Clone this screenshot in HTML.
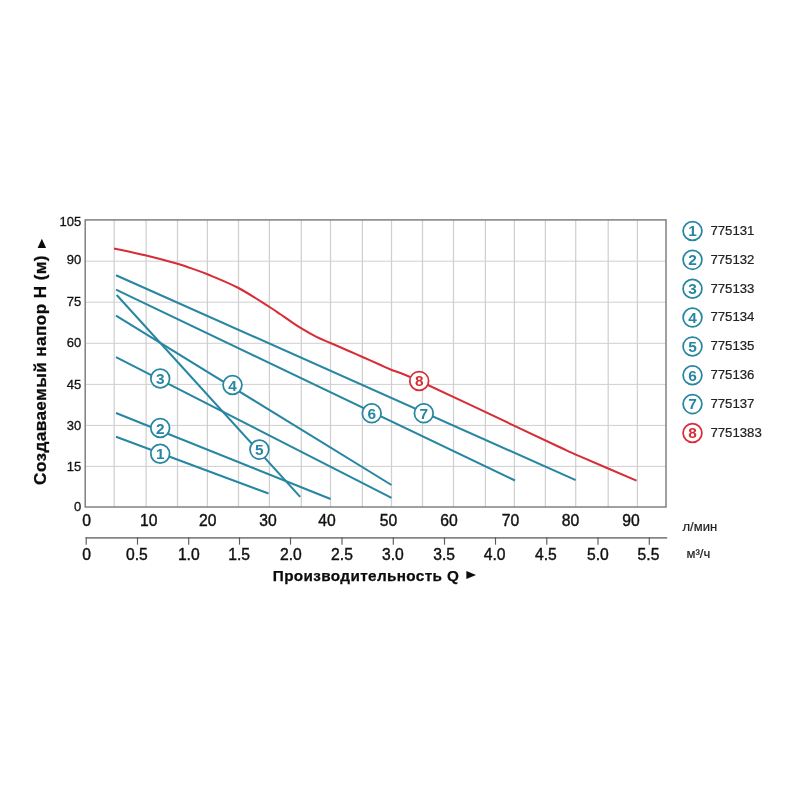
<!DOCTYPE html>
<html lang="ru"><head><meta charset="utf-8"><title>Q-H</title>
<style>html,body{margin:0;padding:0;background:#fff}svg{display:block}text{font-family:"Liberation Sans",Arial,sans-serif}</style></head><body>
<svg width="800" height="800" viewBox="0 0 800 800">
<rect width="800" height="800" fill="#fff"/>
<g stroke="#d0d0d0" stroke-width="1.25" fill="none">
<line x1="114.2" y1="219.9" x2="114.2" y2="507.0"/>
<line x1="146.1" y1="219.9" x2="146.1" y2="507.0"/>
<line x1="177.5" y1="219.9" x2="177.5" y2="507.0"/>
<line x1="207.4" y1="219.9" x2="207.4" y2="507.0"/>
<line x1="238.5" y1="219.9" x2="238.5" y2="507.0"/>
<line x1="269.4" y1="219.9" x2="269.4" y2="507.0"/>
<line x1="301.3" y1="219.9" x2="301.3" y2="507.0"/>
<line x1="330.5" y1="219.9" x2="330.5" y2="507.0"/>
<line x1="362.4" y1="219.9" x2="362.4" y2="507.0"/>
<line x1="391.5" y1="219.9" x2="391.5" y2="507.0"/>
<line x1="422.5" y1="219.9" x2="422.5" y2="507.0"/>
<line x1="453.5" y1="219.9" x2="453.5" y2="507.0"/>
<line x1="485.4" y1="219.9" x2="485.4" y2="507.0"/>
<line x1="514.4" y1="219.9" x2="514.4" y2="507.0"/>
<line x1="545.4" y1="219.9" x2="545.4" y2="507.0"/>
<line x1="575.7" y1="219.9" x2="575.7" y2="507.0"/>
<line x1="608.2" y1="219.9" x2="608.2" y2="507.0"/>
<line x1="637.4" y1="219.9" x2="637.4" y2="507.0"/>
</g>
<g stroke="#cfcfcf" stroke-width="1" fill="none">
<line x1="85.2" y1="261.2" x2="666.0" y2="261.2"/>
<line x1="85.2" y1="302.2" x2="666.0" y2="302.2"/>
<line x1="85.2" y1="343.3" x2="666.0" y2="343.3"/>
<line x1="85.2" y1="384.4" x2="666.0" y2="384.4"/>
<line x1="85.2" y1="425.4" x2="666.0" y2="425.4"/>
<line x1="85.2" y1="466.4" x2="666.0" y2="466.4"/>
</g>
<rect x="85.2" y="219.9" width="580.8" height="287.1" fill="none" stroke="#7c7c7c" stroke-width="1.45"/>
<line x1="85.6" y1="537.9" x2="667.2" y2="537.9" stroke="#858585" stroke-width="1.6"/>
<g stroke="#5c5c5c" stroke-width="1.15" fill="none">
<line x1="86.2" y1="537.2" x2="86.2" y2="544.7"/>
<line x1="137.5" y1="537.2" x2="137.5" y2="544.7"/>
<line x1="188.7" y1="537.2" x2="188.7" y2="544.7"/>
<line x1="239.5" y1="537.2" x2="239.5" y2="544.7"/>
<line x1="290.5" y1="537.2" x2="290.5" y2="544.7"/>
<line x1="342.0" y1="537.2" x2="342.0" y2="544.7"/>
<line x1="393.3" y1="537.2" x2="393.3" y2="544.7"/>
<line x1="444.5" y1="537.2" x2="444.5" y2="544.7"/>
<line x1="495.5" y1="537.2" x2="495.5" y2="544.7"/>
<line x1="546.8" y1="537.2" x2="546.8" y2="544.7"/>
<line x1="598.0" y1="537.2" x2="598.0" y2="544.7"/>
<line x1="649.3" y1="537.2" x2="649.3" y2="544.7"/>
</g>
<g stroke="#2786a2" stroke-width="2.05" fill="none">
<line x1="116.0" y1="436.7" x2="268.5" y2="493.5"/>
<line x1="116.0" y1="413.0" x2="330.6" y2="499.0"/>
<line x1="116.0" y1="357.2" x2="391.5" y2="497.8"/>
<line x1="116.0" y1="315.6" x2="391.5" y2="485.0"/>
<line x1="116.7" y1="295.0" x2="300.2" y2="496.9"/>
<line x1="116.0" y1="289.7" x2="515.0" y2="480.5"/>
<line x1="116.0" y1="275.2" x2="575.7" y2="480.1"/>
</g>
<path d="M114.00,248.40 C119.38,249.60 135.67,253.03 146.25,255.60 C156.83,258.17 170.21,261.75 177.50,263.80 C184.79,265.85 185.00,266.15 190.00,267.90 C195.00,269.65 199.42,270.95 207.50,274.30 C215.58,277.65 228.17,282.55 238.50,288.00 C248.83,293.45 262.58,302.67 269.50,307.00 C276.42,311.33 276.58,311.68 280.00,314.00 C283.42,316.32 286.43,318.50 290.00,320.90 C293.57,323.30 297.07,325.78 301.40,328.40 C305.73,331.02 311.15,334.17 316.00,336.60 C320.85,339.03 324.83,340.52 330.50,343.00 C336.17,345.48 344.67,349.17 350.00,351.50 C355.33,353.83 357.50,354.78 362.50,357.00 C367.50,359.22 375.42,362.76 380.00,364.80 C384.58,366.84 383.46,366.55 390.00,369.25 C396.54,371.95 398.42,371.52 419.25,381.00 C440.08,390.48 491.54,415.05 515.00,426.10 C538.46,437.15 549.17,442.25 560.00,447.30 C570.83,452.35 567.25,450.85 580.00,456.40 C592.75,461.95 627.08,476.57 636.50,480.60" stroke="#d62d36" stroke-width="2.05" fill="none"/>
<circle cx="160.2" cy="453.7" r="9.4" fill="#fff" stroke="#2786a2" stroke-width="1.75"/>
<text x="160.2" y="459.2" font-size="15.4" font-weight="bold" fill="#2786a2" text-anchor="middle">1</text>
<circle cx="160.2" cy="428.0" r="9.4" fill="#fff" stroke="#2786a2" stroke-width="1.75"/>
<text x="160.2" y="433.5" font-size="15.4" font-weight="bold" fill="#2786a2" text-anchor="middle">2</text>
<circle cx="160.2" cy="378.5" r="9.4" fill="#fff" stroke="#2786a2" stroke-width="1.75"/>
<text x="160.2" y="384.0" font-size="15.4" font-weight="bold" fill="#2786a2" text-anchor="middle">3</text>
<circle cx="232.5" cy="385.0" r="9.4" fill="#fff" stroke="#2786a2" stroke-width="1.75"/>
<text x="232.5" y="390.5" font-size="15.4" font-weight="bold" fill="#2786a2" text-anchor="middle">4</text>
<circle cx="259.4" cy="449.6" r="9.4" fill="#fff" stroke="#2786a2" stroke-width="1.75"/>
<text x="259.4" y="455.1" font-size="15.4" font-weight="bold" fill="#2786a2" text-anchor="middle">5</text>
<circle cx="371.7" cy="413.3" r="9.4" fill="#fff" stroke="#2786a2" stroke-width="1.75"/>
<text x="371.7" y="418.8" font-size="15.4" font-weight="bold" fill="#2786a2" text-anchor="middle">6</text>
<circle cx="423.8" cy="413.3" r="9.4" fill="#fff" stroke="#2786a2" stroke-width="1.75"/>
<text x="423.8" y="418.8" font-size="15.4" font-weight="bold" fill="#2786a2" text-anchor="middle">7</text>
<circle cx="419.2" cy="380.9" r="9.4" fill="#fff" stroke="#d62d36" stroke-width="1.75"/>
<text x="419.2" y="386.4" font-size="15.4" font-weight="bold" fill="#d62d36" text-anchor="middle">8</text>
<text x="81.3" y="226.1" font-size="13" fill="#111" stroke="#111" stroke-width="0.3" text-anchor="end">105</text>
<text x="81.3" y="264.4" font-size="13" fill="#111" stroke="#111" stroke-width="0.3" text-anchor="end">90</text>
<text x="81.3" y="306.0" font-size="13" fill="#111" stroke="#111" stroke-width="0.3" text-anchor="end">75</text>
<text x="81.3" y="347.2" font-size="13" fill="#111" stroke="#111" stroke-width="0.3" text-anchor="end">60</text>
<text x="81.3" y="389.2" font-size="13" fill="#111" stroke="#111" stroke-width="0.3" text-anchor="end">45</text>
<text x="81.3" y="430.2" font-size="13" fill="#111" stroke="#111" stroke-width="0.3" text-anchor="end">30</text>
<text x="81.3" y="471.2" font-size="13" fill="#111" stroke="#111" stroke-width="0.3" text-anchor="end">15</text>
<text x="81.3" y="511.2" font-size="13" fill="#111" stroke="#111" stroke-width="0.3" text-anchor="end">0</text>
<text x="86.5" y="525.8" font-size="15.7" fill="#111" stroke="#111" stroke-width="0.4" text-anchor="middle">0</text>
<text x="148.7" y="525.8" font-size="15.7" fill="#111" stroke="#111" stroke-width="0.4" text-anchor="middle">10</text>
<text x="207.8" y="525.8" font-size="15.7" fill="#111" stroke="#111" stroke-width="0.4" text-anchor="middle">20</text>
<text x="268.0" y="525.8" font-size="15.7" fill="#111" stroke="#111" stroke-width="0.4" text-anchor="middle">30</text>
<text x="326.9" y="525.8" font-size="15.7" fill="#111" stroke="#111" stroke-width="0.4" text-anchor="middle">40</text>
<text x="388.5" y="525.8" font-size="15.7" fill="#111" stroke="#111" stroke-width="0.4" text-anchor="middle">50</text>
<text x="449.0" y="525.8" font-size="15.7" fill="#111" stroke="#111" stroke-width="0.4" text-anchor="middle">60</text>
<text x="510.4" y="525.8" font-size="15.7" fill="#111" stroke="#111" stroke-width="0.4" text-anchor="middle">70</text>
<text x="570.6" y="525.8" font-size="15.7" fill="#111" stroke="#111" stroke-width="0.4" text-anchor="middle">80</text>
<text x="630.9" y="525.8" font-size="15.7" fill="#111" stroke="#111" stroke-width="0.4" text-anchor="middle">90</text>
<text x="86.5" y="559.7" font-size="15.7" fill="#111" stroke="#111" stroke-width="0.4" text-anchor="middle">0</text>
<text x="136.9" y="559.7" font-size="15.7" fill="#111" stroke="#111" stroke-width="0.4" text-anchor="middle">0.5</text>
<text x="188.8" y="559.7" font-size="15.7" fill="#111" stroke="#111" stroke-width="0.4" text-anchor="middle">1.0</text>
<text x="239.2" y="559.7" font-size="15.7" fill="#111" stroke="#111" stroke-width="0.4" text-anchor="middle">1.5</text>
<text x="290.9" y="559.7" font-size="15.7" fill="#111" stroke="#111" stroke-width="0.4" text-anchor="middle">2.0</text>
<text x="342.0" y="559.7" font-size="15.7" fill="#111" stroke="#111" stroke-width="0.4" text-anchor="middle">2.5</text>
<text x="392.9" y="559.7" font-size="15.7" fill="#111" stroke="#111" stroke-width="0.4" text-anchor="middle">3.0</text>
<text x="444.1" y="559.7" font-size="15.7" fill="#111" stroke="#111" stroke-width="0.4" text-anchor="middle">3.5</text>
<text x="494.6" y="559.7" font-size="15.7" fill="#111" stroke="#111" stroke-width="0.4" text-anchor="middle">4.0</text>
<text x="545.9" y="559.7" font-size="15.7" fill="#111" stroke="#111" stroke-width="0.4" text-anchor="middle">4.5</text>
<text x="597.9" y="559.7" font-size="15.7" fill="#111" stroke="#111" stroke-width="0.4" text-anchor="middle">5.0</text>
<text x="648.5" y="559.7" font-size="15.7" fill="#111" stroke="#111" stroke-width="0.4" text-anchor="middle">5.5</text>
<text x="682.5" y="530.5" font-size="13" fill="#222" stroke="#222" stroke-width="0.2">л/мин</text>
<text x="686.5" y="558" font-size="13" fill="#222" stroke="#222" stroke-width="0.2">м³/ч</text>
<text x="272.8" y="580.6" font-size="15.3" letter-spacing="0.36" font-weight="bold" fill="#0c0c0c" stroke="#0c0c0c" stroke-width="0.25">Производительность Q</text>
<path d="M466.4,570.9 L476,574.9 L466.4,578.9 Z" fill="#0c0c0c"/>
<text transform="translate(46.3,484.9) rotate(-90)" font-size="17.2" letter-spacing="0.38" font-weight="bold" fill="#0c0c0c" stroke="#0c0c0c" stroke-width="0.25">Создаваемый напор H (м)</text>
<path d="M37.6,247.9 L46.1,247.9 L41.85,238.8 Z" fill="#0c0c0c"/>
<circle cx="692.5" cy="231.00" r="9.4" fill="#fff" stroke="#2786a2" stroke-width="1.75"/>
<text x="692.5" y="236.30" font-size="15.4" font-weight="bold" fill="#2786a2" text-anchor="middle">1</text>
<text x="710.4" y="234.90" font-size="13.2" fill="#222" stroke="#222" stroke-width="0.2">775131</text>
<circle cx="692.5" cy="259.85" r="9.4" fill="#fff" stroke="#2786a2" stroke-width="1.75"/>
<text x="692.5" y="265.15" font-size="15.4" font-weight="bold" fill="#2786a2" text-anchor="middle">2</text>
<text x="710.4" y="263.75" font-size="13.2" fill="#222" stroke="#222" stroke-width="0.2">775132</text>
<circle cx="692.5" cy="288.70" r="9.4" fill="#fff" stroke="#2786a2" stroke-width="1.75"/>
<text x="692.5" y="294.00" font-size="15.4" font-weight="bold" fill="#2786a2" text-anchor="middle">3</text>
<text x="710.4" y="292.60" font-size="13.2" fill="#222" stroke="#222" stroke-width="0.2">775133</text>
<circle cx="692.5" cy="317.55" r="9.4" fill="#fff" stroke="#2786a2" stroke-width="1.75"/>
<text x="692.5" y="322.85" font-size="15.4" font-weight="bold" fill="#2786a2" text-anchor="middle">4</text>
<text x="710.4" y="321.45" font-size="13.2" fill="#222" stroke="#222" stroke-width="0.2">775134</text>
<circle cx="692.5" cy="346.40" r="9.4" fill="#fff" stroke="#2786a2" stroke-width="1.75"/>
<text x="692.5" y="351.70" font-size="15.4" font-weight="bold" fill="#2786a2" text-anchor="middle">5</text>
<text x="710.4" y="350.30" font-size="13.2" fill="#222" stroke="#222" stroke-width="0.2">775135</text>
<circle cx="692.5" cy="375.25" r="9.4" fill="#fff" stroke="#2786a2" stroke-width="1.75"/>
<text x="692.5" y="380.55" font-size="15.4" font-weight="bold" fill="#2786a2" text-anchor="middle">6</text>
<text x="710.4" y="379.15" font-size="13.2" fill="#222" stroke="#222" stroke-width="0.2">775136</text>
<circle cx="692.5" cy="404.10" r="9.4" fill="#fff" stroke="#2786a2" stroke-width="1.75"/>
<text x="692.5" y="409.40" font-size="15.4" font-weight="bold" fill="#2786a2" text-anchor="middle">7</text>
<text x="710.4" y="408.00" font-size="13.2" fill="#222" stroke="#222" stroke-width="0.2">775137</text>
<circle cx="692.5" cy="432.95" r="9.4" fill="#fff" stroke="#d62d36" stroke-width="1.75"/>
<text x="692.5" y="438.25" font-size="15.4" font-weight="bold" fill="#d62d36" text-anchor="middle">8</text>
<text x="710.4" y="436.85" font-size="13.2" fill="#222" stroke="#222" stroke-width="0.2">7751383</text>
</svg></body></html>
